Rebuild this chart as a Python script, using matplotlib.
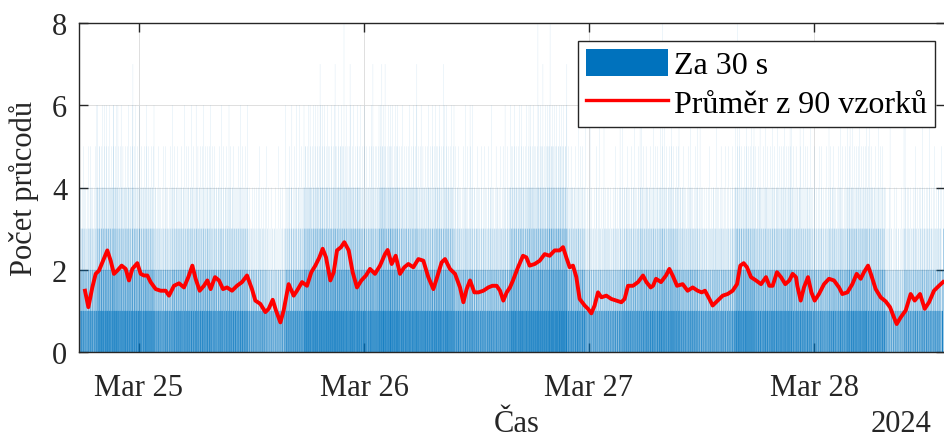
import numpy as np
import pandas as pd
import matplotlib
matplotlib.use("Agg")
import matplotlib.pyplot as plt
import matplotlib.dates as mdates
from matplotlib.patches import Patch
from matplotlib.lines import Line2D
from math import gcd

plt.rcParams["font.family"] = ["Liberation Serif", "DejaVu Serif"]

# ---------------------------------------------------------------- data
day0 = pd.Timestamp("2024-03-25 00:00:00")
t_first = pd.Timestamp("2024-03-24 17:36:00")   # first 30 s interval
t_last = pd.Timestamp("2024-03-28 13:48:00")    # last 30 s interval
block_len = 240                                  # 2 h of 30 s intervals

# share (%) of 30 s intervals per 2 h block with at least 1..6 passes
share_ge1 = [75, 87, 85, 84, 74, 79, 81, 78, 79, 67, 60, 76, 87, 88, 87, 84,
             89, 86, 85, 86, 77, 75, 75, 87, 88, 91, 80, 66, 69, 76, 80, 82,
             76, 70, 71, 85, 80, 82, 79, 73, 77, 83, 80, 58, 68, 70, 80]
share_ge2 = [44, 61, 58, 56, 43, 49, 52, 48, 49, 34, 27, 46, 61, 63, 62, 56,
             66, 59, 57, 60, 47, 44, 44, 61, 63, 68, 50, 33, 36, 46, 50, 53,
             46, 38, 40, 57, 50, 53, 49, 42, 47, 54, 50, 25, 36, 38, 50]
share_ge3 = [20, 35, 32, 30, 19, 24, 26, 23, 24, 13, 9, 21, 35, 37, 36, 30,
             41, 33, 31, 34, 22, 20, 20, 35, 38, 44, 25, 12, 15, 21, 25, 27,
             21, 16, 17, 31, 25, 27, 24, 18, 22, 28, 25, 8, 14, 16, 25]
share_ge4 = [7, 16, 14, 12, 7, 9, 10, 9, 9, 4, 3, 8, 16, 17, 17, 12,
             20, 15, 13, 15, 8, 7, 7, 16, 18, 22, 10, 4, 5, 8, 10, 11,
             8, 5, 6, 13, 10, 11, 9, 6, 8, 11, 10, 2, 5, 5, 10]
share_ge5 = [2, 6, 5, 4, 2, 3, 4, 3, 3, 1, 1, 2, 6, 7, 6, 5,
             8, 5, 5, 6, 3, 2, 2, 6, 7, 10, 3, 1, 1, 2, 3, 4,
             2, 1, 2, 5, 3, 4, 3, 2, 3, 4, 3, 0, 1, 1, 3]
share_ge6 = [0.6, 2.0, 1.7, 1.4, 0.6, 0.9, 1.1, 0.8, 0.9, 0.3, 0.2, 0.7,
             2.0, 2.4, 2.2, 1.4, 2.9, 1.8, 1.6, 1.9, 0.8, 0.6, 0.6, 2.0,
             2.4, 3.4, 1.0, 0.3, 0.4, 0.7, 1.0, 1.2, 0.7, 0.4, 0.5, 1.6,
             1.0, 1.2, 0.9, 0.5, 0.8, 1.3, 1.0, 0.1, 0.4, 0.4, 1.0]

# single tall intervals (hours after Mar 25 00:00, passes)
peak_hours = [-4.48, -3.63, -2.77, -2.24, -0.64, 16.32, 17.17, 18.24, 19.09,
              19.31, 20.91, 21.87, 22.51, 24.96, 25.92, 26.24, 29.65, 32.43,
              35.31, 39.04, 42.56, 43.09, 43.84, 45.65, 48.11, 49.17, 51.31,
              53.44, 55.79, 59.84, 63.79, 66.24, 69.44, 70.51, 75.84, 77.97,
              80.11, 81.71, 84.37]
peak_counts = [6, 6, 6, 6, 7, 6, 6, 6, 6,
               7, 7, 8, 7, 7, 7, 7, 7, 7,
               6, 6, 8, 7, 8, 7, 6, 6, 6,
               6, 8, 6, 8, 6, 6, 6, 6, 6,
               6, 6, 6]

# 90-sample moving average (hours after Mar 25 00:00, mean passes)
avg_hours = [-5.76, -5.40, -4.98, -4.62, -4.27, -3.91, -3.38, -3.02, -2.67,
             -2.31, -1.85, -1.42, -1.07, -0.71, -0.18, 0.18, 0.53, 0.89,
             1.24, 1.78, 2.31, 2.84, 3.20, 3.73, 4.27, 4.80, 5.26, 5.69,
             6.04, 6.47, 6.93, 7.29, 7.64, 8.11, 8.53, 8.96, 9.39, 9.92,
             10.45, 10.99, 11.52, 12.05, 12.41, 12.94, 13.48, 13.83, 14.26,
             14.61, 15.08, 15.43, 15.96, 16.50, 16.85, 17.39, 17.92, 18.38,
             18.81, 19.24, 19.59, 19.95, 20.41, 20.77, 21.12, 21.55, 21.90,
             22.37, 22.79, 23.25, 23.72, 24.21, 24.64, 25.17, 25.71, 26.24,
             26.52, 26.95, 27.38, 27.84, 28.30, 28.73, 29.26, 29.80, 30.33,
             30.86, 31.40, 31.75, 32.28, 32.64, 33.17, 33.71, 34.24, 34.60,
             34.95, 35.31, 35.77, 36.20, 36.73, 37.26, 37.69, 38.15, 38.51,
             38.86, 39.22, 39.57, 39.89, 40.43, 40.96, 41.32, 41.67, 42.21,
             42.74, 43.27, 43.80, 44.34, 44.87, 45.23, 45.58, 45.94, 46.29,
             46.65, 47.00, 47.54, 47.89, 48.25, 48.60, 48.96, 49.32, 49.85,
             50.38, 50.92, 51.45, 51.80, 52.16, 52.69, 53.23, 53.76, 54.12,
             54.58, 54.83, 55.15, 55.68, 56.21, 56.57, 56.92, 57.39, 57.99,
             58.52, 59.06, 59.59, 60.02, 60.37, 60.84, 61.19, 61.72, 62.26,
             62.79, 63.32, 63.79, 64.14, 64.50, 64.85, 65.28, 65.81, 66.35,
             66.88, 67.24, 67.59, 68.05, 68.48, 68.94, 69.37, 69.72, 70.08,
             70.22, 70.58, 70.93, 71.36, 71.72, 72.07, 72.53, 73.07, 73.60,
             74.13, 74.67, 75.02, 75.56, 76.09, 76.55, 76.98, 77.33, 77.76,
             78.12, 78.58, 79.11, 79.65, 80.11, 80.46, 80.82, 81.24, 81.78,
             82.31, 82.74, 83.31, 83.81, 84.27, 84.80, 85.33, 85.76]
avg_values = [1.49, 1.09, 1.57, 1.90, 1.98, 2.18, 2.47, 2.22, 1.90,
              1.98, 2.10, 2.02, 1.74, 2.02, 2.16, 1.90, 1.86, 1.86,
              1.70, 1.53, 1.49, 1.49, 1.37, 1.61, 1.67, 1.57, 1.82, 2.10,
              1.78, 1.49, 1.61, 1.74, 1.53, 1.82, 1.74, 1.53, 1.57, 1.49,
              1.61, 1.70, 1.86, 1.53, 1.25, 1.17, 0.97, 1.05, 1.27,
              1.01, 0.72, 1.01, 1.65, 1.37, 1.49, 1.70, 1.61, 1.94,
              2.10, 2.30, 2.51, 2.30, 1.74, 1.94, 2.47, 2.55, 2.67,
              2.47, 1.94, 1.57, 1.74, 1.86, 2.02, 1.90, 2.10, 2.38,
              2.48, 2.14, 2.34, 1.90, 2.06, 2.14, 2.06, 2.26, 2.22,
              1.82, 1.53, 1.78, 2.18, 2.26, 2.02, 1.90, 1.57, 1.21,
              1.53, 1.74, 1.45, 1.45, 1.49, 1.57, 1.61, 1.61, 1.49,
              1.25, 1.45, 1.57, 1.74, 2.06, 2.34, 2.30, 2.10, 2.14,
              2.22, 2.38, 2.34, 2.47, 2.47, 2.55, 2.30, 2.06, 2.10,
              1.82, 1.29, 1.13, 1.05, 0.94, 1.13, 1.45, 1.33, 1.37,
              1.29, 1.25, 1.21, 1.29, 1.61, 1.61, 1.70, 1.86, 1.70,
              1.57, 1.61, 1.78, 1.70, 1.86, 2.02, 1.86, 1.61, 1.65,
              1.49, 1.57, 1.49, 1.45, 1.49, 1.29, 1.13, 1.25, 1.37,
              1.41, 1.49, 1.65, 2.10, 2.16, 2.06, 1.82, 1.74, 1.65,
              1.82, 1.61, 1.61, 1.94, 1.82, 1.65, 1.74, 1.90, 1.82,
              1.61, 1.25, 1.57, 1.82, 1.45, 1.25, 1.41, 1.65, 1.78,
              1.74, 1.57, 1.41, 1.45, 1.65, 1.90, 1.78, 1.94, 2.10,
              1.86, 1.53, 1.33, 1.23, 1.09, 0.88, 0.68, 0.84, 1.01,
              1.41, 1.25, 1.41, 1.05, 1.21, 1.49, 1.61, 1.70]

# ------------------------------------------------- per-interval counts
times = pd.date_range(t_first, t_last, freq="30s")
n = len(times)
counts = np.zeros(n, dtype=int)
shares = [share_ge1, share_ge2, share_ge3, share_ge4, share_ge5, share_ge6]
for b in range(len(share_ge1)):
    lo = b * block_len
    if lo >= n:
        break
    hi = min(lo + block_len, n)
    m = hi - lo
    heights = np.zeros(m, dtype=int)          # tallest first
    for level in shares:
        heights[:int(round(level[b] / 100 * m))] += 1
    stride = 149
    while gcd(stride, m) != 1:
        stride += 1
    counts[lo + (np.arange(m) * stride) % m] = heights

peak_times = day0 + pd.to_timedelta(peak_hours, unit="h")
for t, c in zip(peak_times, peak_counts):
    idx = int(round((t - t_first) / pd.Timedelta(seconds=30)))
    if 0 <= idx < n:
        counts[idx] = c

# ------------------------------------------------------------- figure
W, H = 944, 439
fig = plt.figure(figsize=(W / 100, H / 100), dpi=100)
ax = fig.add_axes([79 / W, 86 / H, 866 / W, 329 / H])

ink = "#262626"
blue = "#0072BD"

# bars: one filled step path, 90 % of each 30 s slot
x = mdates.date2num(times.to_pydatetime())
slot = 30 / 86400
bw = 0.9 * slot
edges = np.empty(2 * n)
edges[0::2] = x - bw / 2
edges[1::2] = x + bw / 2
vals = np.zeros(2 * n - 1)
vals[0::2] = counts
ax.stairs(vals, edges, fill=True, baseline=0, facecolor=blue,
          edgecolor="none", linewidth=0, zorder=2)

avg_t = mdates.date2num((day0 + pd.to_timedelta(avg_hours, unit="h")).to_pydatetime())
ax.plot(avg_t, avg_values, color="#FF0000", linewidth=2.8, zorder=3,
        solid_joinstyle="round")

x_lo = mdates.date2num((day0 + pd.Timedelta(hours=-6.4)).to_pydatetime())
x_hi = mdates.date2num((day0 + pd.Timedelta(hours=(945 - 139) * 24 / 225)).to_pydatetime())
ax.set_xlim(x_lo, x_hi)
ax.set_ylim(0, 8)
ax.set_yticks([0, 2, 4, 6, 8])
ax.xaxis.set_major_locator(mdates.DayLocator())
ax.xaxis.set_major_formatter(mdates.DateFormatter("%b %d"))

ax.grid(True, color="#dedede", linewidth=0.7, zorder=0)
ax.set_axisbelow(True)
for side in ["top", "bottom", "left", "right"]:
    ax.spines[side].set_color(ink)
    ax.spines[side].set_linewidth(1.0)
    ax.spines[side].set_zorder(5)
ax.tick_params(axis="both", direction="in", length=6.5, width=1.0,
               color=ink, labelcolor=ink, labelsize=22, top=True, right=True)
ax.tick_params(axis="x", pad=15)
ax.tick_params(axis="y", pad=8.5)

fig.text(24 / W, 1 - 188.5 / H, "Počet průcodů", rotation=90, ha="center",
         va="center", fontsize=22, color=ink)
fig.text(517 / W, 1 - 432 / H, "Čas", ha="center", va="baseline",
         fontsize=22, color=ink)
fig.text(932 / W, 1 - 432 / H, "2024", ha="right", va="baseline",
         fontsize=22, color=ink)

handles = [Patch(facecolor=blue, edgecolor="none"),
           Line2D([], [], color="#FF0000", linewidth=2.4)]
leg = ax.legend(handles, ["Za 30 s", "Průměr z 90 vzorků"],
                loc="upper right", bbox_to_anchor=(935 / W, 1 - 42 / H),
                bbox_transform=fig.transFigure, fontsize=23, frameon=True,
                fancybox=False, framealpha=1, edgecolor=ink,
                borderpad=0.25, handlelength=2.55, handleheight=0.92,
                handletextpad=0.2, labelspacing=0.22, borderaxespad=0)
leg.get_frame().set_linewidth(1.0)
leg.set_zorder(10)

fig.savefig("out.png", dpi=100, facecolor="white")
